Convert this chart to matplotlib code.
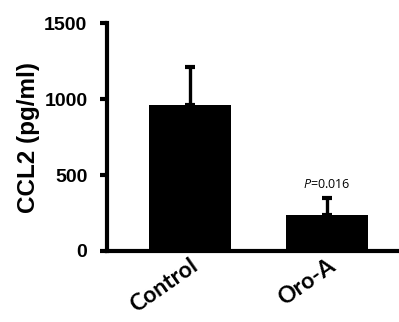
import numpy as np
import matplotlib
matplotlib.use("Agg")
from matplotlib import pyplot as plt
from matplotlib import transforms

groups = ["Control", "Oro-A"]
means = [960, 237]
sems = [250, 112]
p_text = "$P$=0.016"

plt.rcParams['font.family'] = ['Liberation Sans', 'DejaVu Sans']
plt.rcParams['mathtext.fontset'] = 'custom'
plt.rcParams['mathtext.it'] = 'Open Sans:italic'

fig = plt.figure(figsize=(3.99, 3.22), dpi=100)
ax = fig.add_axes([0.268, 0.2205, 0.74, 0.708])

x = np.arange(len(groups))
ax.bar(x, means, width=0.6, color='black', zorder=2)
ax.errorbar(x, means, yerr=[np.zeros(len(sems)), sems], fmt='none',
	ecolor='black', elinewidth=2.4, capsize=3.3, capthick=3, zorder=1)

ax.text(x[1], means[1] + sems[1] + 45, p_text, ha='center', va='bottom',
	fontsize=9, family=['Open Sans', 'DejaVu Sans'])

ax.set_ylim(0, 1500)
ax.set_xlim(-0.605, 1.55)
ax.set_yticks([0, 500, 1000, 1500])
ax.set_xticks(x)
ax.set_xticklabels(groups, rotation=35, ha='right', rotation_mode='anchor',
	fontsize=16.5, fontweight='bold', family=['Lato', 'DejaVu Sans'])
shift = transforms.ScaledTranslation(-4 / 100, 0, fig.dpi_scale_trans)
for lab in ax.get_xticklabels():
	lab.set_transform(lab.get_transform() + shift)
ax.tick_params(axis='x', length=0, pad=3)
ax.tick_params(axis='y', length=5, width=3, labelsize=14, pad=9)
for lab in ax.get_yticklabels():
	lab.set_fontweight('bold')
ax.set_ylabel("CCL2 (pg/ml)", fontsize=17.5, fontweight='bold', labelpad=3)

for side in ['top', 'right']:
	ax.spines[side].set_visible(False)
for side in ['left', 'bottom']:
	ax.spines[side].set_linewidth(3)

fig.savefig('out.png', dpi=100)
